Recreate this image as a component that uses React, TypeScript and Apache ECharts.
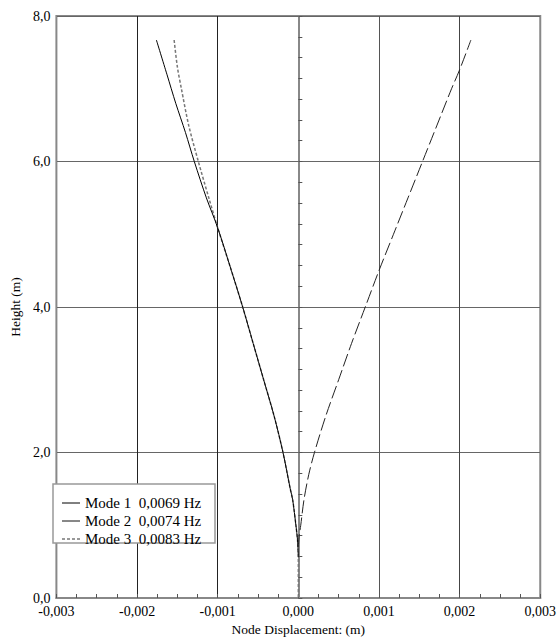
import React, { useEffect, useRef } from "react";
import * as echarts from "echarts";

const xTicks = [-0.003, -0.002, -0.001, 0, 0.001, 0.002, 0.003];
const yTicks = [0, 2, 4, 6, 8];

const mode1Name = "Mode 1  0,0069 Hz";
const mode2Name = "Mode 2  0,0074 Hz";
const mode3Name = "Mode 3  0,0083 Hz";

const mode1Height = [7.67, 7.2, 6.8, 6.4, 6.0, 5.5, 5.09, 4.5, 4.0, 3.5, 3.0, 2.5, 2.0, 1.5, 1.35, 1.0, 0.8, 0.56];
const mode1Disp = [-0.00176, -0.00163, -0.00152, -0.0014, -0.00129, -0.00114, -0.001, -0.00083, -0.00069, -0.00056, -0.00043, -0.0003, -0.00019, -0.0001, -0.00007, -0.00003, -0.00001, 0];

const mode2Height = [0.7, 0.85, 1.0, 1.35, 1.7, 2.0, 2.5, 3.0, 3.5, 4.0, 4.5, 5.0, 5.5, 6.0, 6.5, 7.0, 7.26, 7.67];
const mode2Disp = [0, 0.00001, 0.00003, 0.00007, 0.00013, 0.0002, 0.00034, 0.0005, 0.00066, 0.00083, 0.001, 0.00118, 0.00136, 0.00154, 0.00172, 0.0019, 0.002, 0.00214];

const mode3Height = [7.67, 7.3, 7.0, 6.5, 6.0, 5.5, 5.09, 4.5, 4.0, 3.5, 3.0, 2.5, 2.0, 1.5, 1.35, 1.0, 0.8, 0.56, 0.0];
const mode3Disp = [-0.00154, -0.00150, -0.00145, -0.00136, -0.00124, -0.00111, -0.001, -0.00083, -0.00069, -0.00056, -0.00043, -0.0003, -0.00019, -0.0001, -0.00007, -0.00003, -0.00001, 0, 0];

const zip = (xs: number[], ys: number[]) => xs.map((x, i) => [x, ys[i]]);

const FONT = "Liberation Serif, Times New Roman, serif";

export default function App() {
  const ref = useRef<HTMLDivElement>(null);
  useEffect(() => {
    if (!ref.current) return;
    const chart = echarts.init(ref.current, undefined, { renderer: "svg" });
    const fmt = (v: number, d: number) => (Math.abs(v) < 1e-12 ? 0 : v).toFixed(d).replace(".", ",");
    const legendRows = [
      { name: mode1Name, color: "#000", dash: null as number[] | null, width: 1 },
      { name: mode2Name, color: "#111", dash: null as number[] | null, width: 1 },
      { name: mode3Name, color: "#777", dash: [3, 2], width: 1.5 },
    ];
    const legendChildren: any[] = [
      {
        type: "rect",
        z: 100,
        shape: { x: 53, y: 484, width: 162, height: 59 },
        style: { fill: "#fff", stroke: "#999", lineWidth: 1.5 },
      },
    ];
    legendRows.forEach((r, i) => {
      const y = 503 + i * 18;
      legendChildren.push({
        type: "line",
        z: 101,
        shape: { x1: 62, y1: y, x2: 80, y2: y },
        style: { stroke: r.color, lineWidth: r.width, lineDash: r.dash || undefined },
      });
      legendChildren.push({
        type: "text",
        z: 101,
        x: 85,
        y: y,
        style: {
          text: r.name,
          fill: "#000",
          font: "15px " + FONT,
          verticalAlign: "middle",
          align: "left",
        },
      });
    });
    chart.setOption({
      animation: false,
      backgroundColor: "#fff",
      textStyle: { fontFamily: FONT },
      grid: {
        left: 52,
        right: 17,
        top: 16,
        bottom: 45,
        show: true,
        borderColor: "#888",
        borderWidth: 2,
        backgroundColor: "#fff",
      },
      graphic: legendChildren,
      xAxis: {
        type: "value",
        min: xTicks[0],
        max: xTicks[xTicks.length - 1],
        interval: 0.001,
        name: "Node Displacement: (m)",
        nameLocation: "middle",
        nameGap: 24,
        nameTextStyle: { fontFamily: FONT, fontSize: 13.5, color: "#000" },
        axisLine: { show: true, lineStyle: { color: "#888", width: 2 } },
        axisTick: { show: true, inside: true, length: 4, lineStyle: { color: "#555" } },
        minorTick: { show: true, splitNumber: 4, length: 4, lineStyle: { color: "#555" } },
        axisLabel: {
          margin: 6,
          fontFamily: FONT,
          fontSize: 14,
          color: "#000",
          formatter: (v: number) => fmt(v, 3),
        },
        splitLine: {
          show: true,
          lineStyle: { color: ["#888", "#222", "#222", "#666", "#555", "#444", "#888"], width: 1 },
        },
      },
      yAxis: {
        type: "value",
        min: yTicks[0],
        max: yTicks[yTicks.length - 1],
        interval: 2,
        name: "Height (m)",
        nameLocation: "middle",
        nameGap: 32,
        nameRotate: 90,
        nameTextStyle: { fontFamily: FONT, fontSize: 13.5, color: "#000" },
        axisLine: { show: true, lineStyle: { color: "#888", width: 2 } },
        axisTick: { show: true, inside: true, length: 4, lineStyle: { color: "#555" } },
        minorTick: { show: true, splitNumber: 7, length: 4, lineStyle: { color: "#555" } },
        axisLabel: {
          margin: 6,
          fontFamily: FONT,
          fontSize: 14,
          color: "#000",
          formatter: (v: number) => fmt(v, 1),
        },
        splitLine: { show: true, lineStyle: { color: "#666", width: 1 } },
      },
      series: [
        {
          name: mode3Name,
          type: "line",
          symbol: "none",
          smooth: 0.3,
          data: zip(mode3Disp, mode3Height),
          lineStyle: { color: "#777", width: 1.5, type: [3, 2] },
          itemStyle: { color: "#777" },
          z: 2,
        },
        {
          name: mode1Name,
          type: "line",
          symbol: "none",
          smooth: 0.3,
          data: zip(mode1Disp, mode1Height),
          lineStyle: { color: "#000", width: 1, type: "solid" },
          itemStyle: { color: "#000" },
          z: 3,
        },
        {
          name: mode2Name,
          type: "line",
          symbol: "none",
          smooth: 0.3,
          data: zip(mode2Disp, mode2Height),
          lineStyle: { color: "#222", width: 1, type: [13, 4] },
          itemStyle: { color: "#222" },
          z: 3,
        },
      ],
    });
    return () => chart.dispose();
  }, []);
  return <div ref={ref} style={{ width: 559, height: 643, position: "absolute", left: 0, top: 0 }} />;
}
